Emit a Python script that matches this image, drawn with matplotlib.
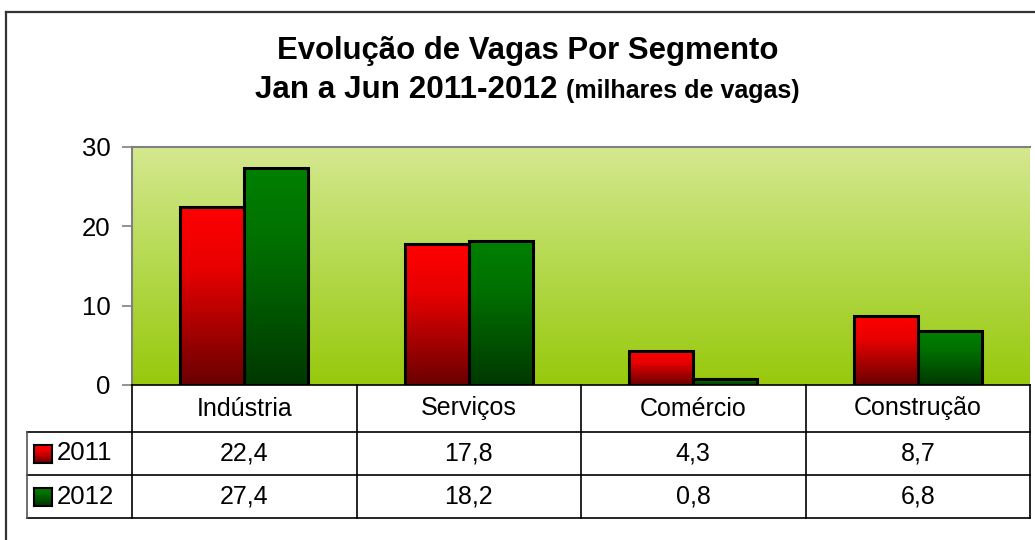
import matplotlib
matplotlib.use("Agg")
import matplotlib.pyplot as plt
import numpy as np
from matplotlib.colors import LinearSegmentedColormap
from matplotlib.lines import Line2D
from matplotlib.patches import Rectangle
from matplotlib.transforms import blended_transform_factory

plt.rcParams["font.family"] = ["Liberation Sans", "DejaVu Sans"]

categories = ["Indústria", "Serviços", "Comércio", "Construção"]
years = ["2011", "2012"]
vals_2011 = [22.4, 17.8, 4.3, 8.7]
vals_2012 = [27.4, 18.2, 0.8, 6.8]
yticks = [0, 10, 20, 30]

W, H = 1035, 540
fig = plt.figure(figsize=(W / 100, H / 100), dpi=100)


def fx(x):
    return x / W


def fy(y):
    return 1 - y / H


# outer chart border (cropped on right and bottom)
fig.add_artist(Line2D([fx(6), fx(6)], [fy(12), 0], color="#333333", lw=1.6, transform=fig.transFigure))
fig.add_artist(Line2D([fx(6), 1], [fy(12), fy(12)], color="#333333", lw=1.6, transform=fig.transFigure))

L, R, T, B = 132, 1030, 147, 385
ax = fig.add_axes([fx(L), fy(B), fx(R - L), fy(T) - fy(B)])
n = len(categories)

bg = LinearSegmentedColormap.from_list("bg", ["#98c90c", "#b4d94e", "#d5e890"])
ax.imshow(np.linspace(0, 1, 256).reshape(-1, 1), cmap=bg, origin="lower", aspect="auto",
          extent=(-0.5, n - 0.5, 0, 30), zorder=0)

red = LinearSegmentedColormap.from_list("red", [(0, "#6a0000"), (0.65, "#e80000"), (1, "#ff0000")])
green = LinearSegmentedColormap.from_list("green", [(0, "#003800"), (0.65, "#007000"), (1, "#008000")])

bw = 0.285
x = np.arange(n)
for vals, cmap, off in [(vals_2011, red, -bw / 2), (vals_2012, green, bw / 2)]:
    for xi, v in zip(x, vals):
        x0 = xi + off - bw / 2
        ax.imshow(np.linspace(0, 1, 256).reshape(-1, 1), cmap=cmap, origin="lower", aspect="auto",
                  extent=(x0, x0 + bw, 0, v), zorder=2)
        ax.add_patch(Rectangle((x0, 0), bw, v, fill=False, ec="black", lw=2.2, zorder=3))
ax.set_xlim(-0.5, n - 0.5)
ax.set_ylim(0, 30)

ax.set_xticks([])
ax.set_yticks(yticks)
ax.tick_params(axis="y", length=7.5, width=1.2, color="#808080", labelsize=18.5, pad=8)
for s in ["left", "top"]:
    ax.spines[s].set_color("#808080")
    ax.spines[s].set_linewidth(1.5)
ax.spines["right"].set_visible(False)
ax.spines["bottom"].set_color("black")
ax.spines["bottom"].set_linewidth(1.2)

# data table
tf = fig.transFigure
row_y = [385, 432, 475, 518]
for y in row_y[1:]:
    fig.add_artist(Line2D([fx(27), fx(R)], [fy(y), fy(y)], color="black", lw=1.2, transform=tf))
fig.add_artist(Line2D([fx(27), fx(27)], [fy(432), fy(518)], color="#555555", lw=1.2, transform=tf))
col_w = (R - L) / n
for k in range(n + 1):
    xx = L + k * col_w
    fig.add_artist(Line2D([fx(xx), fx(xx)], [fy(385), fy(518)], color="black", lw=1.2, transform=tf))

mix = blended_transform_factory(ax.transData, tf)
for xi, c in zip(x, categories):
    fig.text(xi, fy((row_y[0] + row_y[1]) / 2), c, transform=mix, ha="center", va="center", fontsize=18)

key_colors = [red, green]
for r, (yr, vals) in enumerate(zip(years, [vals_2011, vals_2012])):
    yc = (row_y[r + 1] + row_y[r + 2]) / 2
    for xi, v in zip(x, vals):
        fig.text(xi, fy(yc), f"{v:.1f}".replace(".", ","), transform=mix, ha="center", va="center", fontsize=18)
    kax = fig.add_axes([fx(34), fy(yc + 9), fx(18), fy(yc - 9) - fy(yc + 9)])
    kax.imshow(np.linspace(0, 1, 64).reshape(-1, 1), cmap=key_colors[r], origin="lower", aspect="auto")
    kax.set_xticks([])
    kax.set_yticks([])
    for s in kax.spines.values():
        s.set_linewidth(1.5)
    fig.text(fx(57), fy(yc), yr, ha="left", va="center", fontsize=18.5)

cx = 527.5
fig.text(fx(cx), fy(59), "Evolução de Vagas Por Segmento", ha="center", va="baseline", fontsize=22.4, fontweight="bold")
t1 = fig.text(0, fy(98), "Jan a Jun 2011-2012 ", ha="left", va="baseline", fontsize=22.6, fontweight="bold")
t2 = fig.text(0, fy(98), "(milhares de vagas)", ha="left", va="baseline", fontsize=18, fontweight="bold")
fig.canvas.draw()
w1 = t1.get_window_extent().width
w2 = t2.get_window_extent().width
start = cx - (w1 + w2) / 2
t1.set_x(fx(start))
t2.set_x(fx(start + w1))

fig.savefig("out.png", dpi=100)
